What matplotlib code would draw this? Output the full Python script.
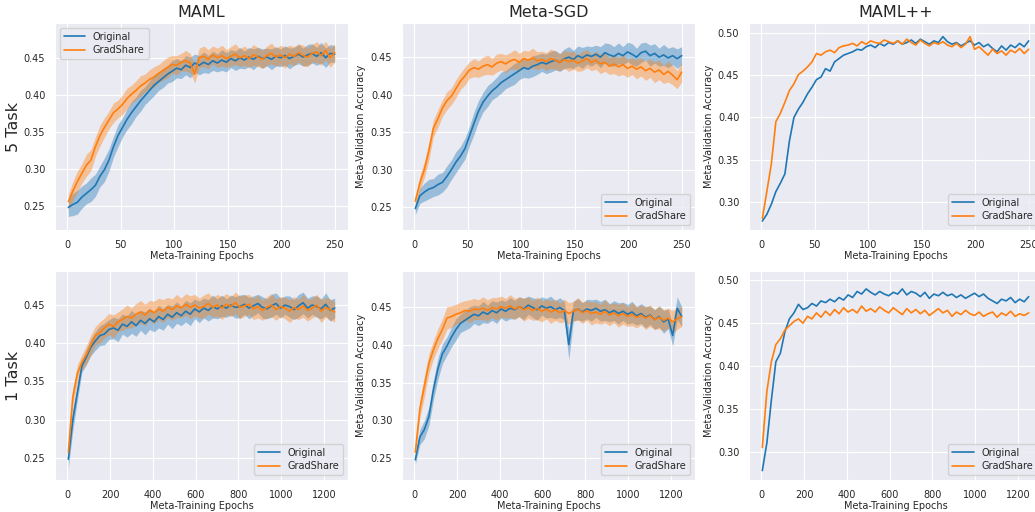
import numpy as np
import matplotlib
matplotlib.use("Agg")
import matplotlib.pyplot as plt
import seaborn as sns

sns.set_style("darkgrid")
plt.rcParams['font.family'] = ['DejaVu Sans']

# ---------------- data (accuracy in thousandths) ----------------
col_titles = ["MAML", "Meta-SGD", "MAML++"]
row_labels = ["5 Task", "1 Task"]
series_names = ["Original", "GradShare"]
top_epoch_range = (1, 250)
bottom_epoch_range = (5, 1250)

maml5_orig = [248,252,255,262,267,272,278,290,299,312,
              330,345,356,367,376,384,392,399,406,413,
              418,423,428,432,436,434,440,437,443,440,
              444,441,446,443,447,444,449,446,450,447,
              451,448,452,449,451,448,452,450,453,449,
              452,455,451,454,456,452,457,450,456,455]
maml5_gs = [256,270,283,294,305,312,330,345,356,366,
            376,381,387,395,401,406,412,416,421,424,
            429,433,437,441,440,444,446,443,428,450,
            452,448,454,450,453,449,452,455,450,453,
            449,454,451,448,453,456,451,454,450,455,
            452,457,453,451,456,458,453,460,450,457]
maml5_orig_sd = [12,15,16,15,14,16,15,14,16,15,
                 14,15,13,14,15,13,14,12,13,14,
                 12,13,12,14,13,12,13,14,12,13,
                 14,12,13,12,14,13,12,13,14,12,
                 13,14,12,13,12,14,13,12,13,14,
                 12,13,12,14,13,12,14,13,12,11]
maml5_gs_sd = [10,13,14,13,15,14,13,14,13,12,
               13,12,13,14,12,13,14,12,13,14,
               12,13,14,12,13,12,14,13,12,13,
               14,13,12,13,14,12,13,14,12,13,
               12,14,13,12,13,14,12,13,14,12,
               13,12,14,13,12,14,13,12,13,12]

msgd5_orig = [248,265,270,274,276,280,283,291,300,310,
              318,328,345,362,378,390,398,405,410,416,
              420,424,428,432,436,434,438,440,443,441,
              444,446,443,448,450,447,452,449,453,451,
              454,450,456,453,451,455,452,457,454,450,
              456,458,452,455,450,453,449,452,448,452]
msgd5_gs = [258,282,300,325,355,368,382,392,398,408,
            418,425,433,436,434,438,440,437,442,444,
            441,445,447,443,448,446,449,445,447,444,
            448,446,443,447,444,446,442,445,448,443,
            446,441,443,438,441,437,440,435,438,434,
            437,432,435,430,433,427,431,426,420,430]
msgd5_orig_sd = [8,10,12,13,12,14,13,14,13,14,
                 13,14,13,15,14,13,14,12,13,14,
                 12,13,14,12,13,12,14,13,12,13,
                 14,13,12,13,14,12,13,14,12,13,
                 12,14,13,15,13,14,12,13,14,12,
                 13,12,14,13,12,14,13,12,13,12]
msgd5_gs_sd = [6,10,11,12,11,12,11,12,11,12,
               11,12,11,12,11,12,13,11,12,11,
               12,11,13,12,11,12,13,12,11,12,
               13,12,11,12,13,12,11,13,12,11,
               12,13,12,11,13,12,13,12,11,13,
               12,13,12,14,13,12,14,13,12,13]

mamlpp5_orig = [277,285,297,312,322,333,372,400,410,418,
                428,436,445,448,458,455,466,470,474,476,
                478,481,480,484,486,483,488,485,489,487,
                491,487,489,492,488,493,490,487,491,489,
                496,490,487,489,485,488,491,486,489,484,
                487,482,478,485,480,486,483,488,484,491]
mamlpp5_gs = [280,312,345,395,405,418,432,440,451,455,
              460,466,476,474,478,480,477,483,485,486,
              488,485,490,487,491,489,488,492,490,488,
              491,487,493,489,486,492,488,485,489,487,
              490,486,484,488,483,487,496,481,484,479,
              474,481,476,479,474,480,477,482,476,481]

maml1_orig = [248,300,335,370,382,395,403,410,412,418,
              420,417,425,422,428,423,430,426,432,428,
              435,431,438,434,440,436,442,438,445,441,
              446,443,448,445,449,446,450,447,448,451,
              446,449,452,447,445,449,452,446,450,448,
              444,449,453,446,450,448,445,451,443,446]
maml1_gs = [257,330,360,375,385,398,410,414,420,425,
            422,428,431,435,433,438,441,437,443,440,
            445,442,447,444,449,446,451,447,450,446,
            448,452,447,450,446,451,448,453,447,449,
            451,445,448,443,447,450,444,448,446,442,
            447,444,449,443,446,450,442,447,444,441]
maml1_orig_sd = [12,14,10,8,10,11,12,13,14,13,
                 14,15,13,14,15,14,13,15,14,13,
                 15,14,13,15,14,13,14,15,13,14,
                 13,14,15,13,14,12,13,14,15,13,
                 14,13,12,14,13,15,14,13,12,14,
                 13,15,14,13,12,14,13,15,14,13]
maml1_gs_sd = [8,12,12,10,12,13,12,14,13,14,
               15,13,14,15,13,14,15,14,13,15,
               14,15,13,14,15,13,14,15,14,13,
               15,14,13,14,15,14,13,14,15,14,
               13,14,15,13,14,15,14,13,14,15,
               14,13,15,14,13,14,15,13,14,13]

msgd1_orig = [248,278,288,305,340,368,388,398,410,420,
              428,432,436,440,438,443,440,445,442,447,
              444,448,446,450,447,452,449,446,451,448,
              450,446,449,445,400,444,447,443,447,445,
              448,444,446,442,445,441,444,440,443,438,
              441,436,439,433,437,430,434,412,448,437]
msgd1_gs = [258,315,345,375,393,408,420,435,437,440,
            442,445,444,447,446,448,445,449,447,450,
            448,451,447,450,446,449,445,448,444,447,
            443,446,442,445,441,444,447,442,445,441,
            443,440,444,439,442,438,441,437,440,436,
            439,435,438,433,436,432,435,430,434,437]
msgd1_orig_sd = [6,10,12,12,13,14,13,12,13,14,
                 12,13,14,12,13,14,12,13,14,12,
                 13,14,12,13,14,12,13,14,12,13,
                 14,12,13,12,20,13,14,12,13,14,
                 12,13,14,12,13,14,12,13,14,12,
                 13,14,12,13,14,15,13,14,15,13]
msgd1_gs_sd = [6,12,14,13,12,13,14,15,14,13,
               14,13,15,14,13,15,14,13,15,14,
               13,15,14,13,15,14,13,15,14,13,
               15,14,13,15,14,13,15,14,13,15,
               14,13,15,14,13,15,14,13,15,14,
               13,15,14,13,15,14,13,15,14,13]

mamlpp1_orig = [278,310,360,405,415,440,455,462,472,466,
                468,473,470,476,474,478,475,480,477,483,
                480,487,484,490,486,483,487,484,482,486,
                484,490,483,487,485,481,486,479,484,482,
                486,482,484,480,483,479,482,485,481,484,
                479,476,473,478,476,480,474,478,475,481]
mamlpp1_gs = [305,370,405,425,432,442,447,452,455,450,
              458,455,462,457,464,459,466,461,468,463,
              466,462,470,464,467,463,469,465,462,468,
              464,460,467,462,466,461,465,459,463,467,
              462,465,458,463,460,465,461,459,463,458,
              461,463,457,462,459,464,458,461,459,462]

# ---------------- layout ----------------
W, H = 1035, 512
fig = plt.figure(figsize=(W / 100, H / 100), dpi=100)

col_left_px = [55, 402, 749]
ax_w_px = 293
rows_px = [(23, 230), (271, 480)]  # (top, bottom) in pixels

ylims = [[(0.2176, 0.497), (0.2194, 0.4956), (0.2664, 0.5122)],
         [(0.2208, 0.4946), (0.2214, 0.4971), (0.2670, 0.5109)]]

panels = [
    [(maml5_orig, maml5_gs, maml5_orig_sd, maml5_gs_sd),
     (msgd5_orig, msgd5_gs, msgd5_orig_sd, msgd5_gs_sd),
     (mamlpp5_orig, mamlpp5_gs, None, None)],
    [(maml1_orig, maml1_gs, maml1_orig_sd, maml1_gs_sd),
     (msgd1_orig, msgd1_gs, msgd1_orig_sd, msgd1_gs_sd),
     (mamlpp1_orig, mamlpp1_gs, None, None)],
]

colors = ["#1f77b4", "#ff7f0e"]
text_color = "#262626"

for r in range(2):
    top, bot = rows_px[r]
    rng = top_epoch_range if r == 0 else bottom_epoch_range
    for c in range(3):
        ax = fig.add_axes([col_left_px[c] / W, 1 - bot / H,
                           ax_w_px / W, (bot - top) / H])
        o, g, osd, gsd = panels[r][c]
        for vals, sd, name, colr in ((o, osd, series_names[0], colors[0]),
                                     (g, gsd, series_names[1], colors[1])):
            y = np.array(vals) / 1000.0
            x = np.linspace(rng[0], rng[1], len(y))
            ax.plot(x, y, color=colr, lw=1.2, label=name)
            if sd is not None:
                s = np.array(sd) / 1000.0
                ax.fill_between(x, y - s, y + s, color=colr, alpha=0.4, lw=0)
        span = rng[1] - rng[0]
        ax.set_xlim(rng[0] - 0.05 * span, rng[1] + 0.05 * span)
        ax.set_ylim(*ylims[r][c])
        if r == 0:
            ax.set_xticks([0, 50, 100, 150, 200, 250])
            ax.set_title(col_titles[c], fontsize=11.5, color=text_color, pad=4)
        else:
            ax.set_xticks([0, 200, 400, 600, 800, 1000, 1200])
        ax.tick_params(labelsize=7, colors=text_color, pad=3.5)
        ax.set_xlabel("Meta-Training Epochs", fontsize=7, color=text_color, labelpad=1)
        if c == 0:
            ax.set_ylabel(row_labels[r], fontsize=11.5, color=text_color, labelpad=2)
        else:
            ax.set_ylabel("Meta-Validation Accuracy", fontsize=7, color=text_color, labelpad=3)
        loc = "upper left" if (r == 0 and c == 0) else "lower right"
        leg = ax.legend(loc=loc, fontsize=7, frameon=True, handlelength=2.2,
                        borderpad=0.4, labelspacing=0.35)
        for t in leg.get_texts():
            t.set_color(text_color)

fig.savefig("out.png", dpi=100)
